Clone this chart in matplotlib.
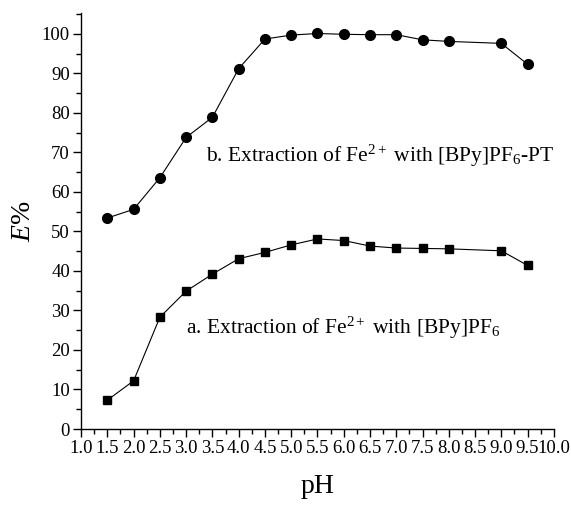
import matplotlib
matplotlib.use("Agg")
import matplotlib.pyplot as plt
from matplotlib.ticker import MultipleLocator, FormatStrFormatter

plt.rcParams['font.family'] = ['Liberation Serif', 'DejaVu Serif']
plt.rcParams['mathtext.fontset'] = 'custom'
plt.rcParams['mathtext.rm'] = 'Liberation Serif'
plt.rcParams['mathtext.it'] = 'Liberation Serif:italic'

# data
ph = [1.5, 2.0, 2.5, 3.0, 3.5, 4.0, 4.5, 5.0, 5.5, 6.0, 6.5, 7.0, 7.5, 8.0, 9.0, 9.5]
e_bpy = [7.3, 12.2, 28.3, 34.9, 39.2, 43.1, 44.7, 46.6, 48.1, 47.7, 46.3, 45.8, 45.7, 45.6, 45.1, 41.4]
e_bpy_pt = [53.4, 55.6, 63.6, 73.8, 78.9, 91.2, 98.7, 99.7, 100.1, 99.9, 99.8, 99.8, 98.5, 98.1, 97.6, 92.3]

label_a = "a. Extraction of Fe$^{2+}$ with [BPy]PF$_6$"
label_b = "b. Extraction of Fe$^{2+}$ with [BPy]PF$_6$-PT"

fig = plt.figure(figsize=(5.71, 5.08), dpi=100)
ax = fig.add_axes([0.142, 0.1555, 0.828, 0.819])

ax.plot(ph, e_bpy, color='black', lw=0.8, marker='s', ms=6, mec='black', mfc='black')
ax.plot(ph, e_bpy_pt, color='black', lw=0.8, marker='o', ms=7, mec='black', mfc='black')

ax.set_xlim(1.0, 10.0)
ax.set_ylim(0, 105.3)
ax.xaxis.set_major_locator(MultipleLocator(0.5))
ax.xaxis.set_minor_locator(MultipleLocator(0.25))
ax.xaxis.set_major_formatter(FormatStrFormatter('%.1f'))
ax.yaxis.set_major_locator(MultipleLocator(10))
ax.yaxis.set_minor_locator(MultipleLocator(5))

for s in ['top', 'right']:
    ax.spines[s].set_visible(False)
for s in ['left', 'bottom']:
    ax.spines[s].set_linewidth(1.0)

ax.tick_params(which='major', direction='out', length=6, width=1.0, labelsize=13.5, pad=2)
ax.tick_params(which='minor', direction='out', length=3.5, width=1.0)

ax.set_xlabel("pH", fontsize=20, labelpad=12)
ax.set_ylabel("$E$%", fontsize=20, labelpad=4)

ax.text(3.38, 69, label_b, fontsize=15.5, va='center', ha='left')
ax.text(3.0, 25.6, label_a, fontsize=15.5, va='center', ha='left')

fig.savefig("out.png", dpi=100)
